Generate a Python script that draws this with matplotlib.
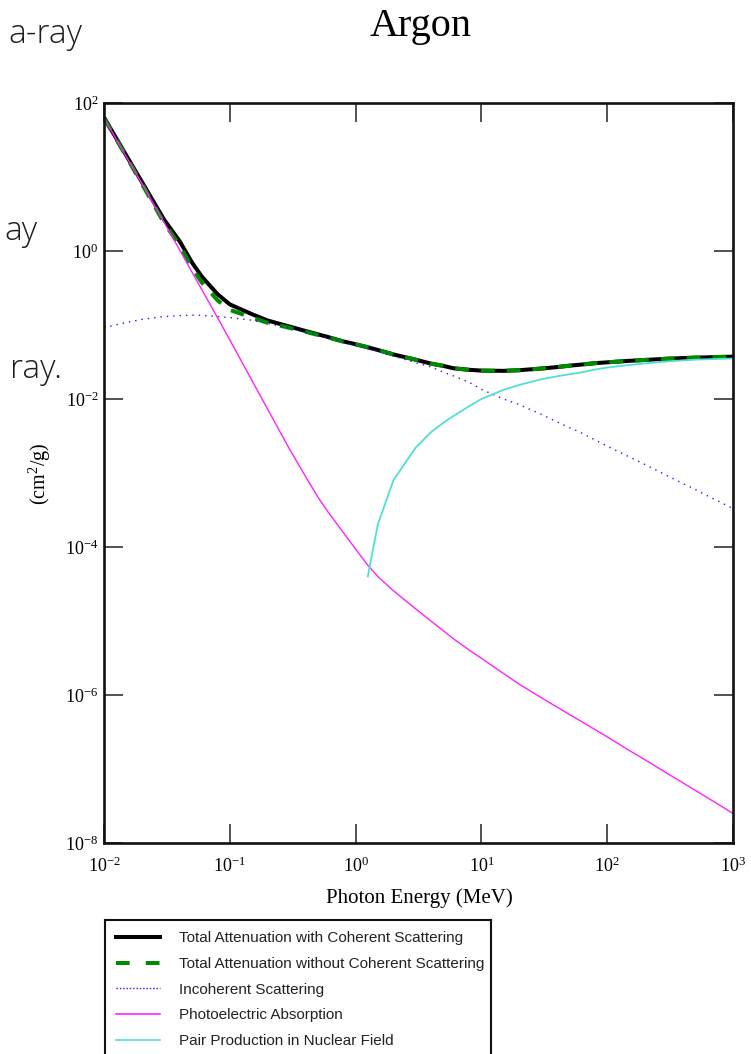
import matplotlib
matplotlib.use("Agg")
import matplotlib.pyplot as plt
from matplotlib.lines import Line2D

plt.rcParams["mathtext.fontset"] = "custom"
plt.rcParams["mathtext.rm"] = "Liberation Serif"
plt.rcParams["mathtext.it"] = "Liberation Serif:italic"
plt.rcParams["mathtext.bf"] = "Liberation Serif:bold"

# Photon energy grid (MeV)
energy = [0.01, 0.015, 0.02, 0.03, 0.04, 0.05, 0.06, 0.08, 0.1, 0.15, 0.2,
          0.3, 0.4, 0.5, 0.6, 0.8, 1.0, 1.25, 1.5, 2, 3, 4, 5, 6, 8, 10,
          15, 20, 30, 40, 50, 60, 80, 100, 150, 200, 300, 400, 500, 600,
          800, 1000]

# mass attenuation coefficients (cm^2/g)
total_coh = [64.0, 19.7, 8.6, 2.66, 1.35, 0.70, 0.45, 0.26, 0.19, 0.14, 0.115,
             0.095, 0.083, 0.075, 0.069, 0.060, 0.055, 0.050, 0.046, 0.040,
             0.034, 0.030, 0.028, 0.026, 0.0248, 0.0242, 0.0240, 0.0245,
             0.0258, 0.0270, 0.0282, 0.0290, 0.0305, 0.0313, 0.0328, 0.0337,
             0.0350, 0.0357, 0.0362, 0.0365, 0.0370, 0.0373]
total_nocoh = [62.7, 19.0, 8.1, 2.40, 1.19, 0.595, 0.375, 0.215, 0.160, 0.126,
               0.107, 0.0913, 0.0809, 0.0736, 0.0680, 0.0594, 0.0546, 0.050,
               0.046, 0.040, 0.034, 0.030, 0.028, 0.026, 0.0248, 0.0242,
               0.0240, 0.0245, 0.0258, 0.0270, 0.0282, 0.0290, 0.0305, 0.0313,
               0.0328, 0.0337, 0.0350, 0.0357, 0.0362, 0.0365, 0.0370, 0.0373]
incoherent = [0.092, 0.108, 0.119, 0.130, 0.134, 0.136, 0.135, 0.130, 0.126,
              0.116, 0.105, 0.090, 0.080, 0.072, 0.067, 0.058, 0.053, 0.048,
              0.044, 0.038, 0.031, 0.027, 0.023, 0.0205, 0.0168, 0.0135,
              0.0100, 0.0084, 0.0062, 0.0049, 0.0041, 0.0036, 0.0028, 0.0023,
              0.00165, 0.00130, 0.00092, 0.00072, 0.00060, 0.00051, 0.00040,
              0.00033]
photoelectric = [62.5, 19.0, 8.2, 2.45, 1.03, 0.52, 0.30, 0.125, 0.063, 0.0178,
                 7.27e-3, 2.07e-3, 8.97e-4, 4.76e-4, 3.02e-4, 1.56e-4, 9.4e-5,
                 5.66e-5, 4.0e-5, 2.56e-5, 1.46e-5, 9.9e-6, 7.34e-6, 5.74e-6,
                 4.05e-6, 3.13e-6, 1.95e-6, 1.40e-6, 9.17e-7, 6.86e-7, 5.47e-7,
                 4.56e-7, 3.41e-7, 2.72e-7, 1.78e-7, 1.33e-7, 8.73e-8, 6.5e-8,
                 5.16e-8, 4.28e-8, 3.18e-8, 2.5e-8]
pair_energy = [1.25, 1.5, 2, 3, 4, 5, 6, 8, 10, 15, 20, 30, 40, 50, 60, 80,
               100, 150, 200, 300, 400, 500, 600, 800, 1000]
pair_nuclear = [4.0e-5, 2.0e-4, 8.0e-4, 2.2e-3, 3.6e-3, 4.8e-3, 5.9e-3, 8.0e-3,
                0.0100, 0.0133, 0.0155, 0.0185, 0.0203, 0.0216, 0.0226, 0.0250,
                0.0266, 0.0288, 0.0303, 0.0322, 0.0333, 0.0340, 0.0344,
                0.0349, 0.0353]

labels = ["Total Attenuation with Coherent Scattering",
          "Total Attenuation without Coherent Scattering",
          "Incoherent Scattering",
          "Photoelectric Absorption",
          "Pair Production in Nuclear Field"]

W, H = 751, 1054
fig = plt.figure(figsize=(W / 100, H / 100), dpi=100)
ax = fig.add_axes([104 / W, 1 - 843 / H, (733 - 104) / W, (843 - 103) / H])

l_tot, = ax.plot(energy, total_coh, color="black", lw=2.9, solid_capstyle="butt")
l_noc, = ax.plot(energy, total_nocoh, color="#008a00", lw=2.9)
l_noc.set_dashes([3.4, 3.0])
l_inc, = ax.plot(energy, incoherent, color="#1a1aff", lw=1.0, ls=(0, (1, 3.6)))
l_pho, = ax.plot(energy, photoelectric, color="#ff22ff", lw=1.0)
l_pair, = ax.plot(pair_energy, pair_nuclear, color="#50e0d2", lw=1.3)

ax.set_xscale("log")
ax.set_yscale("log")
ax.set_xlim(1e-2, 1e3)
ax.set_ylim(1e-8, 1e2)
xt = [1e-2, 1e-1, 1e0, 1e1, 1e2, 1e3]
yt = [1e-8, 1e-6, 1e-4, 1e-2, 1e0, 1e2]
ax.set_xticks(xt)
ax.set_xticklabels([r"$10^{%d}$" % p for p in range(-2, 4)])
ax.set_yticks(yt)
ax.set_yticklabels([r"$10^{%d}$" % p for p in range(-8, 3, 2)])
ax.minorticks_off()
ax.tick_params(which="major", direction="in", length=13.5, width=1.1,
               top=True, right=True, labelsize=13, color="#222222")
ax.tick_params(axis="x", pad=10)
ax.tick_params(axis="y", pad=4)
for sp in ax.spines.values():
    sp.set_linewidth(1.9)
    sp.set_color("#111111")

serif = "Liberation Serif"
fig.text(421 / W, 1 - 36 / H, "Argon", family=serif, fontsize=29,
         ha="center", va="baseline")
fig.text(419 / W, 1 - 898 / H, "Photon Energy (MeV)", family=serif,
         fontsize=15, ha="center", va="center")
fig.text(40 / W, 1 - 474 / H, r"(cm$^2$/g)", family=serif, fontsize=14.5,
         rotation=90, ha="center", va="center")

# slide text partially cut off at the left edge
slide = dict(family="Open Sans", fontsize=24, color="#1e1e1e",
             ha="right", va="baseline", fontweight="light")
fig.text(82 / W, 1 - 43 / H, "a-ray", **slide)
fig.text(38 / W, 1 - 240 / H, "ay", **slide)
fig.text(62 / W, 1 - 378 / H, "ray.", **slide)

# legend box, bottom edge falls below the figure
ax_leg = fig.add_axes([104.5 / W, 1 - 1075 / H, (491 - 104.5) / W, (1075 - 920) / H])
ax_leg.set_xticks([])
ax_leg.set_yticks([])
for sp in ax_leg.spines.values():
    sp.set_linewidth(1.5)
    sp.set_color("#111111")
h_noc = Line2D([], [], color="#008a00", lw=2.9)
h_noc.set_dashes([3.4, 4.0])
handles = [Line2D([], [], color="black", lw=2.9), h_noc,
           Line2D([], [], color="#1a1aff", lw=1.0, ls=(0, (1, 1.4))),
           Line2D([], [], color="#ff22ff", lw=1.2),
           Line2D([], [], color="#50e0d2", lw=1.2)]
leg = ax_leg.legend(handles, labels, loc="upper left", bbox_to_anchor=(0, 1),
                    frameon=False, prop={"family": "Liberation Sans", "size": 11},
                    handlelength=2.9, handletextpad=1.2, labelspacing=0.76,
                    borderpad=0.0, borderaxespad=0.75)
for t in leg.get_texts():
    t.set_color("#222222")

fig.savefig("out.png", dpi=100)
